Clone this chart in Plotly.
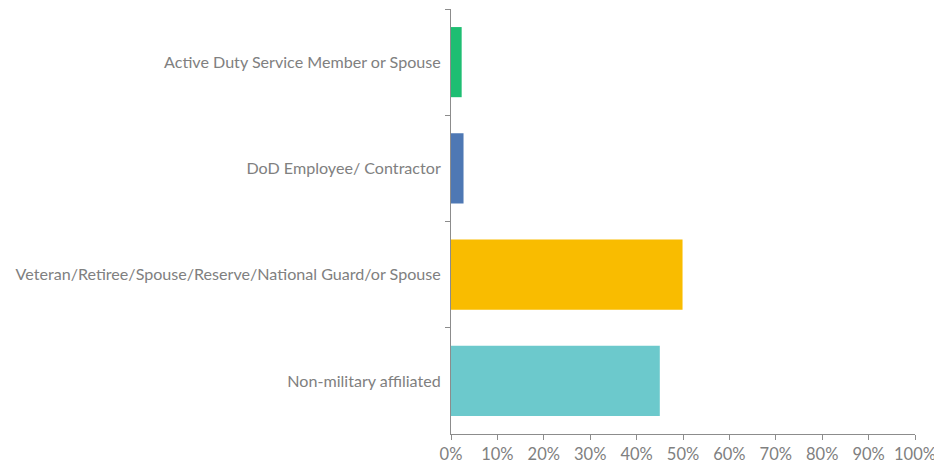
import plotly.graph_objects as go

categories = [
    "Active Duty Service Member or Spouse",
    "DoD Employee/ Contractor",
    "Veteran/Retiree/Spouse/Reserve/National Guard/or Spouse",
    "Non-military affiliated",
]
values = [0.023, 0.027, 0.499, 0.450]
colors = ["#1EBE72", "#4E78B4", "#F9BC00", "#6CC9CC"]

fig = go.Figure(
    go.Bar(
        x=values,
        y=categories,
        orientation="h",
        marker=dict(color=colors, line=dict(width=0)),
        width=0.66,
    )
)

axis_color = "#8c8c8c"
font_color = "#808080"

fig.update_layout(
    width=942,
    height=466,
    margin=dict(l=443, r=35, t=1, b=40),
    paper_bgcolor="white",
    plot_bgcolor="white",
    showlegend=False,
    font=dict(family="Lato, Open Sans, sans-serif", size=16, color=font_color),
    bargap=0.34,
)

fig.update_xaxes(
    range=[0, 1],
    dtick=0.1,
    tick0=0,
    tickformat=".0%",
    showgrid=False,
    zeroline=False,
    showline=True,
    linecolor=axis_color,
    linewidth=1,
    ticks="outside",
    ticklen=5,
    tickcolor=axis_color,
    tickfont=dict(size=16.5, color=font_color),
    automargin=False,
)

fig.update_yaxes(
    autorange="reversed",
    showgrid=False,
    zeroline=False,
    showline=True,
    linecolor=axis_color,
    linewidth=1,
    ticks="outside",
    tickson="boundaries",
    ticklen=5,
    tickcolor=axis_color,
    tickfont=dict(size=16.1, color=font_color),
    ticklabelstandoff=6,
    automargin=False,
)

fig.write_html("out.html")
